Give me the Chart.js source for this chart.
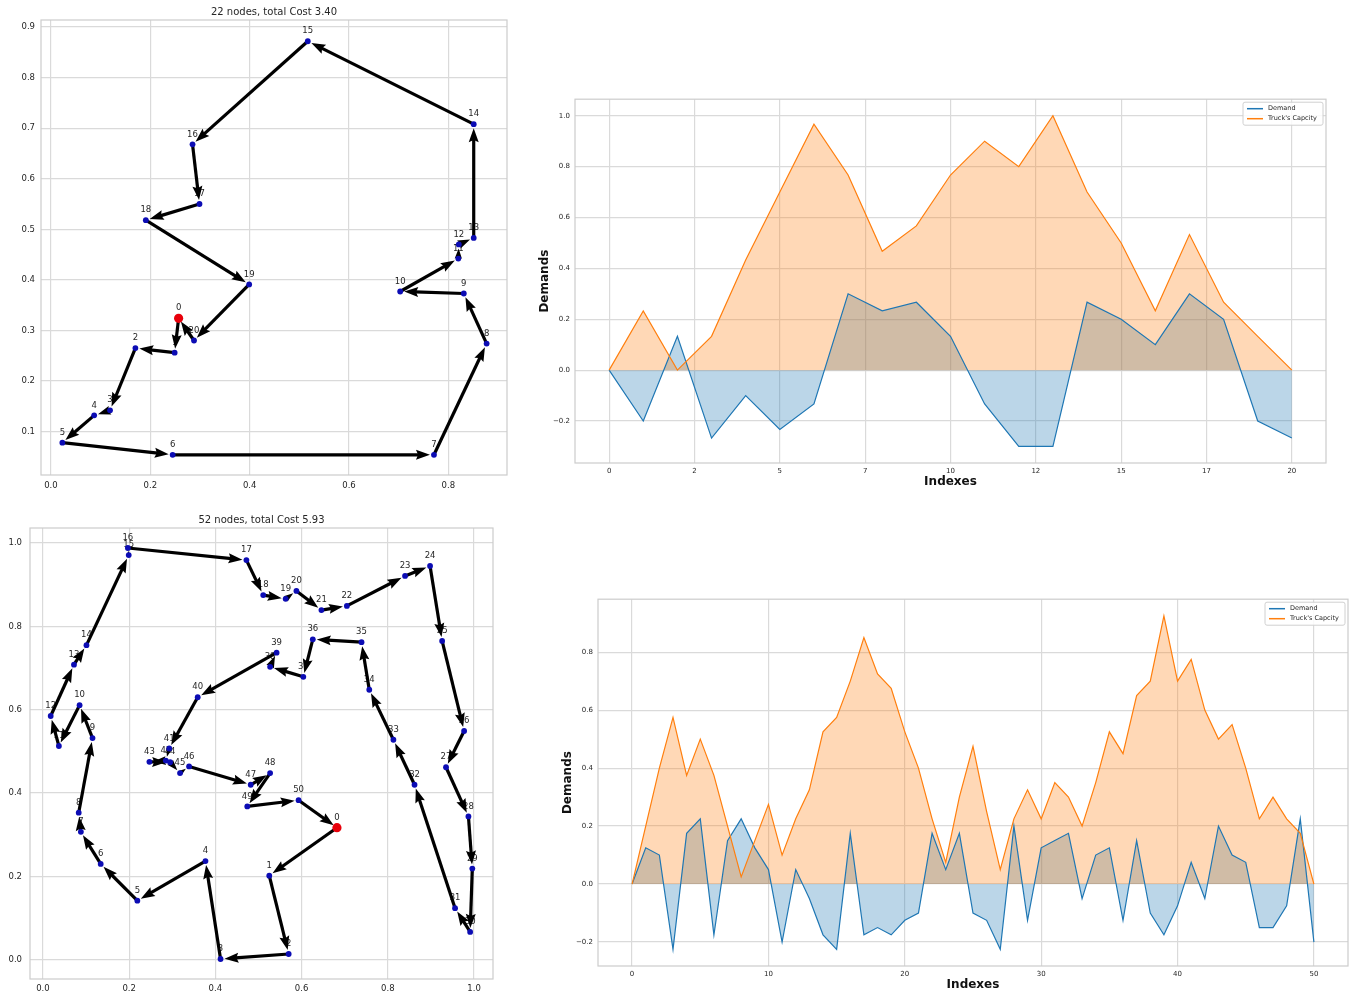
<!DOCTYPE html>
<html>
<head>
<meta charset="utf-8">
<title>VRP routes and demands</title>
<script src="https://cdn.jsdelivr.net/npm/chart.js@4.4.1/dist/chart.umd.min.js"></script>
<style>
  body { margin: 0; background: #fff; }
  #page { position: relative; width: 1356px; height: 995px; overflow: hidden; }
  .box { position: absolute; }
</style>
</head>
<body>
<div id="page">
  <div class="box" style="left:0;top:0;width:520px;height:495px"><canvas id="route22"></canvas></div>
  <div class="box" style="left:530px;top:90px;width:810px;height:405px"><canvas id="demand22"></canvas></div>
  <div class="box" style="left:0;top:505px;width:520px;height:490px"><canvas id="route52"></canvas></div>
  <div class="box" style="left:555px;top:590px;width:801px;height:405px"><canvas id="demand52"></canvas></div>
</div>
<script>
// Routes of two VRP instances and the demand / truck capacity along each route

// 22 nodes instance
const nodeX22 = [0.257, 0.249, 0.170, 0.119, 0.087, 0.023, 0.245, 0.771, 0.877, 0.831, 0.703,
  0.820, 0.821, 0.851, 0.851, 0.517, 0.285, 0.299, 0.191, 0.399, 0.288];
const nodeY22 = [0.324, 0.256, 0.265, 0.142, 0.132, 0.078, 0.054, 0.054, 0.274, 0.373, 0.377,
  0.442, 0.470, 0.483, 0.708, 0.872, 0.668, 0.550, 0.518, 0.391, 0.280];
const route22 = [0, 1, 2, 3, 4, 5, 6, 7, 8, 9, 10, 11, 12, 13, 14, 15, 16, 17, 18, 19, 20, 0];
const xTicks22 = [0.0, 0.2, 0.4, 0.6, 0.8];
const yTicks22 = [0.1, 0.2, 0.3, 0.4, 0.5, 0.6, 0.7, 0.8, 0.9];

// 52 nodes instance
const nodeX52 = [0.682, 0.525, 0.570, 0.412, 0.377, 0.219, 0.134, 0.088, 0.083, 0.115, 0.085,
  0.037, 0.018, 0.072, 0.101, 0.199, 0.197, 0.472, 0.511, 0.563, 0.588,
  0.646, 0.705, 0.840, 0.898, 0.926, 0.977, 0.935, 0.987, 0.996, 0.991,
  0.956, 0.862, 0.813, 0.757, 0.739, 0.626, 0.604, 0.527, 0.542, 0.359,
  0.293, 0.285, 0.247, 0.295, 0.318, 0.339, 0.482, 0.527, 0.474, 0.593];
const nodeY52 = [0.317, 0.202, 0.014, 0.002, 0.237, 0.142, 0.230, 0.307, 0.353, 0.532, 0.611,
  0.513, 0.585, 0.708, 0.755, 0.971, 0.988, 0.959, 0.875, 0.866, 0.885,
  0.839, 0.849, 0.921, 0.945, 0.765, 0.549, 0.462, 0.344, 0.219, 0.067,
  0.124, 0.420, 0.528, 0.648, 0.762, 0.769, 0.679, 0.703, 0.737, 0.630,
  0.507, 0.478, 0.475, 0.474, 0.448, 0.464, 0.420, 0.448, 0.368, 0.383];
const route52 = [0, 1, 2, 3, 4, 5, 6, 7, 8, 9, 10, 11, 12, 13, 14, 15, 16, 17, 18, 19, 20,
  21, 22, 23, 24, 25, 26, 27, 28, 29, 30, 31, 32, 33, 34, 35, 36, 37, 38, 39, 40,
  41, 42, 43, 44, 45, 46, 47, 48, 49, 50, 0];
const xTicks52 = [0.0, 0.2, 0.4, 0.6, 0.8, 1.0];
const yTicks52 = [0.0, 0.2, 0.4, 0.6, 0.8, 1.0];

// demand and capacity along the route
const demand22 = [0, -0.2, 0.133, -0.267, -0.1, -0.233, -0.133, 0.3, 0.233, 0.267, 0.133,
  -0.133, -0.3, -0.3, 0.267, 0.2, 0.1, 0.3, 0.2, -0.2, -0.267];
const capacity22 = [0, 0.233, 0, 0.133, 0.433, 0.7, 0.967, 0.767, 0.467, 0.567, 0.767,
  0.9, 0.8, 1.0, 0.7, 0.5, 0.233, 0.533, 0.267, 0.133, 0];
const idxTicks22 = [0, 2.5, 5, 7.5, 10, 12.5, 15, 17.5, 20];
const valTicks22 = [-0.2, 0, 0.2, 0.4, 0.6, 0.8, 1.0];

const demand52 = [0, 0.125, 0.1, -0.225, 0.175, 0.225, -0.175, 0.15, 0.225, 0.125, 0.05,
  -0.2, 0.05, -0.05, -0.175, -0.225, 0.175, -0.175, -0.15, -0.175, -0.125,
  -0.1, 0.175, 0.05, 0.175, -0.1, -0.125, -0.225, 0.2, -0.125, 0.125,
  0.15, 0.175, -0.05, 0.1, 0.125, -0.125, 0.15, -0.1, -0.175, -0.075,
  0.075, -0.05, 0.2, 0.1, 0.075, -0.15, -0.15, -0.075, 0.225, -0.2];
const capacity52 = [0, 0.2, 0.4, 0.575, 0.375, 0.5, 0.375, 0.2, 0.025, 0.15, 0.275,
  0.1, 0.225, 0.325, 0.525, 0.575, 0.7, 0.85, 0.725, 0.675, 0.525,
  0.4, 0.225, 0.075, 0.3, 0.475, 0.25, 0.05, 0.225, 0.325, 0.225,
  0.35, 0.3, 0.2, 0.35, 0.525, 0.45, 0.65, 0.7, 0.925, 0.7,
  0.775, 0.6, 0.5, 0.55, 0.4, 0.225, 0.3, 0.225, 0.175, 0];
const idxTicks52 = [0, 10, 20, 30, 40, 50];
const valTicks52 = [-0.2, 0, 0.2, 0.4, 0.6, 0.8];

Chart.defaults.font.family = "'DejaVu Sans', sans-serif";
Chart.defaults.color = "#262626";
Chart.defaults.animation = false;

const GRID = "#dadada";
const FRAME = "#cccccc";
const BLUE = "#1f77b4";
const ORANGE = "#ff7f0e";

// light gray box round the plot area
const framePlugin = {
  id: "frame",
  beforeDatasetsDraw(chart) {
    const { ctx, chartArea: a } = chart;
    ctx.save();
    ctx.strokeStyle = FRAME;
    ctx.lineWidth = 1.2;
    ctx.strokeRect(a.left, a.top, a.right - a.left, a.bottom - a.top);
    ctx.restore();
  },
};

// title centred over the plot area
const captionPlugin = {
  id: "caption",
  afterDraw(chart, args, opts) {
    if (!opts.text) return;
    const { ctx, chartArea: a } = chart;
    ctx.save();
    ctx.font = "10px 'DejaVu Sans'";
    ctx.fillStyle = "#262626";
    ctx.textAlign = "center";
    ctx.textBaseline = "middle";
    ctx.fillText(opts.text, (a.left + a.right) / 2, opts.y);
    ctx.restore();
  },
};

function drawArrow(ctx, x0, y0, x1, y1) {
  const dx = x1 - x0, dy = y1 - y0;
  const len = Math.hypot(dx, dy);
  if (len < 1) return;
  const ux = dx / len, uy = dy / len;
  const nx = -uy, ny = ux;
  const end = Math.max(len - 4, len * 0.6);
  const hl = Math.min(14, end);
  const hw = 5 * hl / 14;
  const notch = hl * 0.85;
  const tx = x0 + ux * end, ty = y0 + uy * end;
  ctx.strokeStyle = "#000";
  ctx.lineWidth = 3.2;
  ctx.lineCap = "butt";
  ctx.beginPath();
  ctx.moveTo(x0, y0);
  ctx.lineTo(tx - ux * (notch - 1), ty - uy * (notch - 1));
  ctx.stroke();
  ctx.fillStyle = "#000";
  ctx.beginPath();
  ctx.moveTo(tx, ty);
  ctx.lineTo(tx - ux * hl + nx * hw, ty - uy * hl + ny * hw);
  ctx.lineTo(tx - ux * notch, ty - uy * notch);
  ctx.lineTo(tx - ux * hl - nx * hw, ty - uy * hl - ny * hw);
  ctx.closePath();
  ctx.fill();
}

// node numbers and route arrows, positioned through the chart scales
const routePlugin = {
  id: "route",
  beforeDatasetsDraw(chart, args, opts) {
    if (!opts.route) return;
    const { ctx } = chart;
    const xs = chart.scales.x, ys = chart.scales.y;
    const px = (i) => xs.getPixelForValue(opts.x[i]);
    const py = (i) => ys.getPixelForValue(opts.y[i]);
    ctx.save();
    ctx.font = "8.5px 'DejaVu Sans'";
    ctx.fillStyle = "#262626";
    ctx.textAlign = "center";
    ctx.textBaseline = "middle";
    opts.x.forEach((_, i) => ctx.fillText(String(i), px(i), py(i) - 10));
    for (let k = 0; k + 1 < opts.route.length; k++) {
      const a = opts.route[k], b = opts.route[k + 1];
      drawArrow(ctx, px(a), py(a), px(b), py(b));
    }
    ctx.restore();
  },
};

// matplotlib style legend box in the upper right corner
const boxLegendPlugin = {
  id: "boxLegend",
  afterDatasetsDraw(chart, args, opts) {
    if (!opts.items) return;
    const { ctx, chartArea: a } = chart;
    const w = 80, h = 23;
    const x = a.right - 3 - w, y = a.top + 3;
    ctx.save();
    ctx.fillStyle = "rgba(255,255,255,0.85)";
    ctx.strokeStyle = "#d0d0d0";
    ctx.lineWidth = 1;
    ctx.beginPath();
    if (ctx.roundRect) ctx.roundRect(x, y, w, h, 2); else ctx.rect(x, y, w, h);
    ctx.fill();
    ctx.stroke();
    ctx.font = "6.5px 'DejaVu Sans'";
    ctx.textBaseline = "middle";
    ctx.textAlign = "left";
    opts.items.forEach((it, k) => {
      const ly = y + 6.5 + k * 10;
      ctx.strokeStyle = it.color;
      ctx.lineWidth = 1.5;
      ctx.beginPath();
      ctx.moveTo(x + 4, ly);
      ctx.lineTo(x + 20, ly);
      ctx.stroke();
      ctx.fillStyle = "#262626";
      ctx.fillText(it.label, x + 25, ly);
    });
    ctx.restore();
  },
};

const fixedTicks = (list) => (scale) => {
  scale.ticks = list.map((v) => ({ value: v }));
};
const oneDecimal = (v) => (v < 0 ? "\u2212" : "") + Math.abs(v).toFixed(1);

function routeChart(id, xs, ys, route, title, box) {
  const points = xs.map((x, i) => ({ x: x, y: ys[i] })).slice(1);
  return new Chart(document.getElementById(id), {
    type: "scatter",
    data: {
      datasets: [
        { data: points, backgroundColor: "#0c0cb4", borderWidth: 0, pointRadius: 2.9 },
        { data: [{ x: xs[0], y: ys[0] }], backgroundColor: "#e8000b", borderWidth: 0, pointRadius: 4.6 },
      ],
    },
    options: {
      responsive: true,
      maintainAspectRatio: false,
      events: [],
      layout: { padding: { top: box.top, right: box.right, left: 0, bottom: 0 } },
      scales: {
        x: {
          type: "linear",
          min: box.xMin, max: box.xMax,
          afterBuildTicks: fixedTicks(box.xTicks),
          afterFit: (s) => { s.height = box.xh; },
          grid: { color: GRID, lineWidth: 1.2, drawTicks: false },
          border: { display: false },
          ticks: { font: { size: 8.5 }, padding: box.xPad, autoSkip: false, maxRotation: 0, callback: (v) => v.toFixed(1) },
        },
        y: {
          type: "linear",
          min: box.yMin, max: box.yMax,
          afterBuildTicks: fixedTicks(box.yTicks),
          afterFit: (s) => { s.width = box.yw; },
          grid: { color: GRID, lineWidth: 1.2, drawTicks: false },
          border: { display: false },
          ticks: { font: { size: 8.5 }, padding: box.yPad, autoSkip: false, callback: (v) => v.toFixed(1) },
        },
      },
      plugins: {
        legend: { display: false },
        tooltip: { enabled: false },
        caption: { text: title, y: box.titleY },
        route: { x: xs, y: ys, route: route },
      },
    },
    plugins: [framePlugin, routePlugin, captionPlugin],
  });
}

function demandChart(id, demand, capacity, box) {
  return new Chart(document.getElementById(id), {
    type: "line",
    data: {
      datasets: [
        {
          label: "Truck's Capcity",
          data: capacity.map((v, i) => ({ x: i, y: v })),
          borderColor: ORANGE,
          backgroundColor: "rgba(255,127,14,0.3)",
          fill: "origin",
          borderWidth: 1.2,
          pointRadius: 0,
          tension: 0,
        },
        {
          label: "Demand",
          data: demand.map((v, i) => ({ x: i, y: v })),
          borderColor: BLUE,
          backgroundColor: "rgba(31,119,180,0.3)",
          fill: "origin",
          borderWidth: 1.2,
          pointRadius: 0,
          tension: 0,
        },
      ],
    },
    options: {
      responsive: true,
      maintainAspectRatio: false,
      events: [],
      layout: { padding: { top: box.top, right: box.right, left: 0, bottom: 0 } },
      scales: {
        x: {
          type: "linear",
          min: box.xMin, max: box.xMax,
          afterBuildTicks: fixedTicks(box.xTicks),
          afterFit: (s) => { s.height = box.xh; },
          grid: { color: GRID, lineWidth: 1.2, drawTicks: false },
          border: { display: false },
          ticks: { font: { size: 7 }, padding: box.xPad, autoSkip: false, maxRotation: 0, callback: (v) => String(Math.trunc(v)) },
          title: { display: true, text: "Indexes", font: { size: 12, weight: "bold" }, color: "#111", padding: { top: 0, bottom: box.xTitlePad } },
        },
        y: {
          type: "linear",
          min: box.yMin, max: box.yMax,
          afterBuildTicks: fixedTicks(box.yTicks),
          afterFit: (s) => { s.width = box.yw; },
          grid: { color: GRID, lineWidth: 1.2, drawTicks: false },
          border: { display: false },
          ticks: { font: { size: 7 }, padding: box.yPad, autoSkip: false, callback: oneDecimal },
          title: { display: true, text: "Demands", font: { size: 12, weight: "bold" }, color: "#111", padding: { top: box.yTitlePad, bottom: 0 } },
        },
      },
      plugins: {
        legend: { display: false },
        tooltip: { enabled: false },
        filler: { propagate: false, drawTime: "beforeDatasetsDraw" },
        boxLegend: { items: [{ label: "Demand", color: BLUE }, { label: "Truck's Capcity", color: ORANGE }] },
      },
    },
    plugins: [framePlugin, boxLegendPlugin],
  });
}

routeChart("route22", nodeX22, nodeY22, route22, "22 nodes, total Cost 3.40", {
  top: 20, right: 13, yw: 41, xh: 20, xPad: 6, yPad: 6, titleY: 12,
  xMin: -0.02, xMax: 0.918, yMin: 0.014, yMax: 0.914, xTicks: xTicks22, yTicks: yTicks22,
});

routeChart("route52", nodeX52, nodeY52, route52, "52 nodes, total Cost 5.93", {
  top: 23, right: 27, yw: 30, xh: 16, xPad: 5, yPad: 8, titleY: 15,
  xMin: -0.030, xMax: 1.044, yMin: -0.046, yMax: 1.036, xTicks: xTicks52, yTicks: yTicks52,
});

demandChart("demand22", demand22, capacity22, {
  top: 7, right: 14, yw: 45, xh: 32, xPad: 4, yPad: 5, xTitlePad: 5.8, yTitlePad: 7.8,
  xMin: -1, xMax: 21, yMin: -0.365, yMax: 1.065, xTicks: idxTicks22, yTicks: valTicks22,
});

demandChart("demand52", demand52, capacity52, {
  top: 9, right: 8, yw: 43, xh: 29, xPad: 3.5, yPad: 5, xTitlePad: 2.8, yTitlePad: 5.8,
  xMin: -2.5, xMax: 52.5, yMin: -0.2825, yMax: 0.9825, xTicks: idxTicks52, yTicks: valTicks52,
});
</script>
</body>
</html>
